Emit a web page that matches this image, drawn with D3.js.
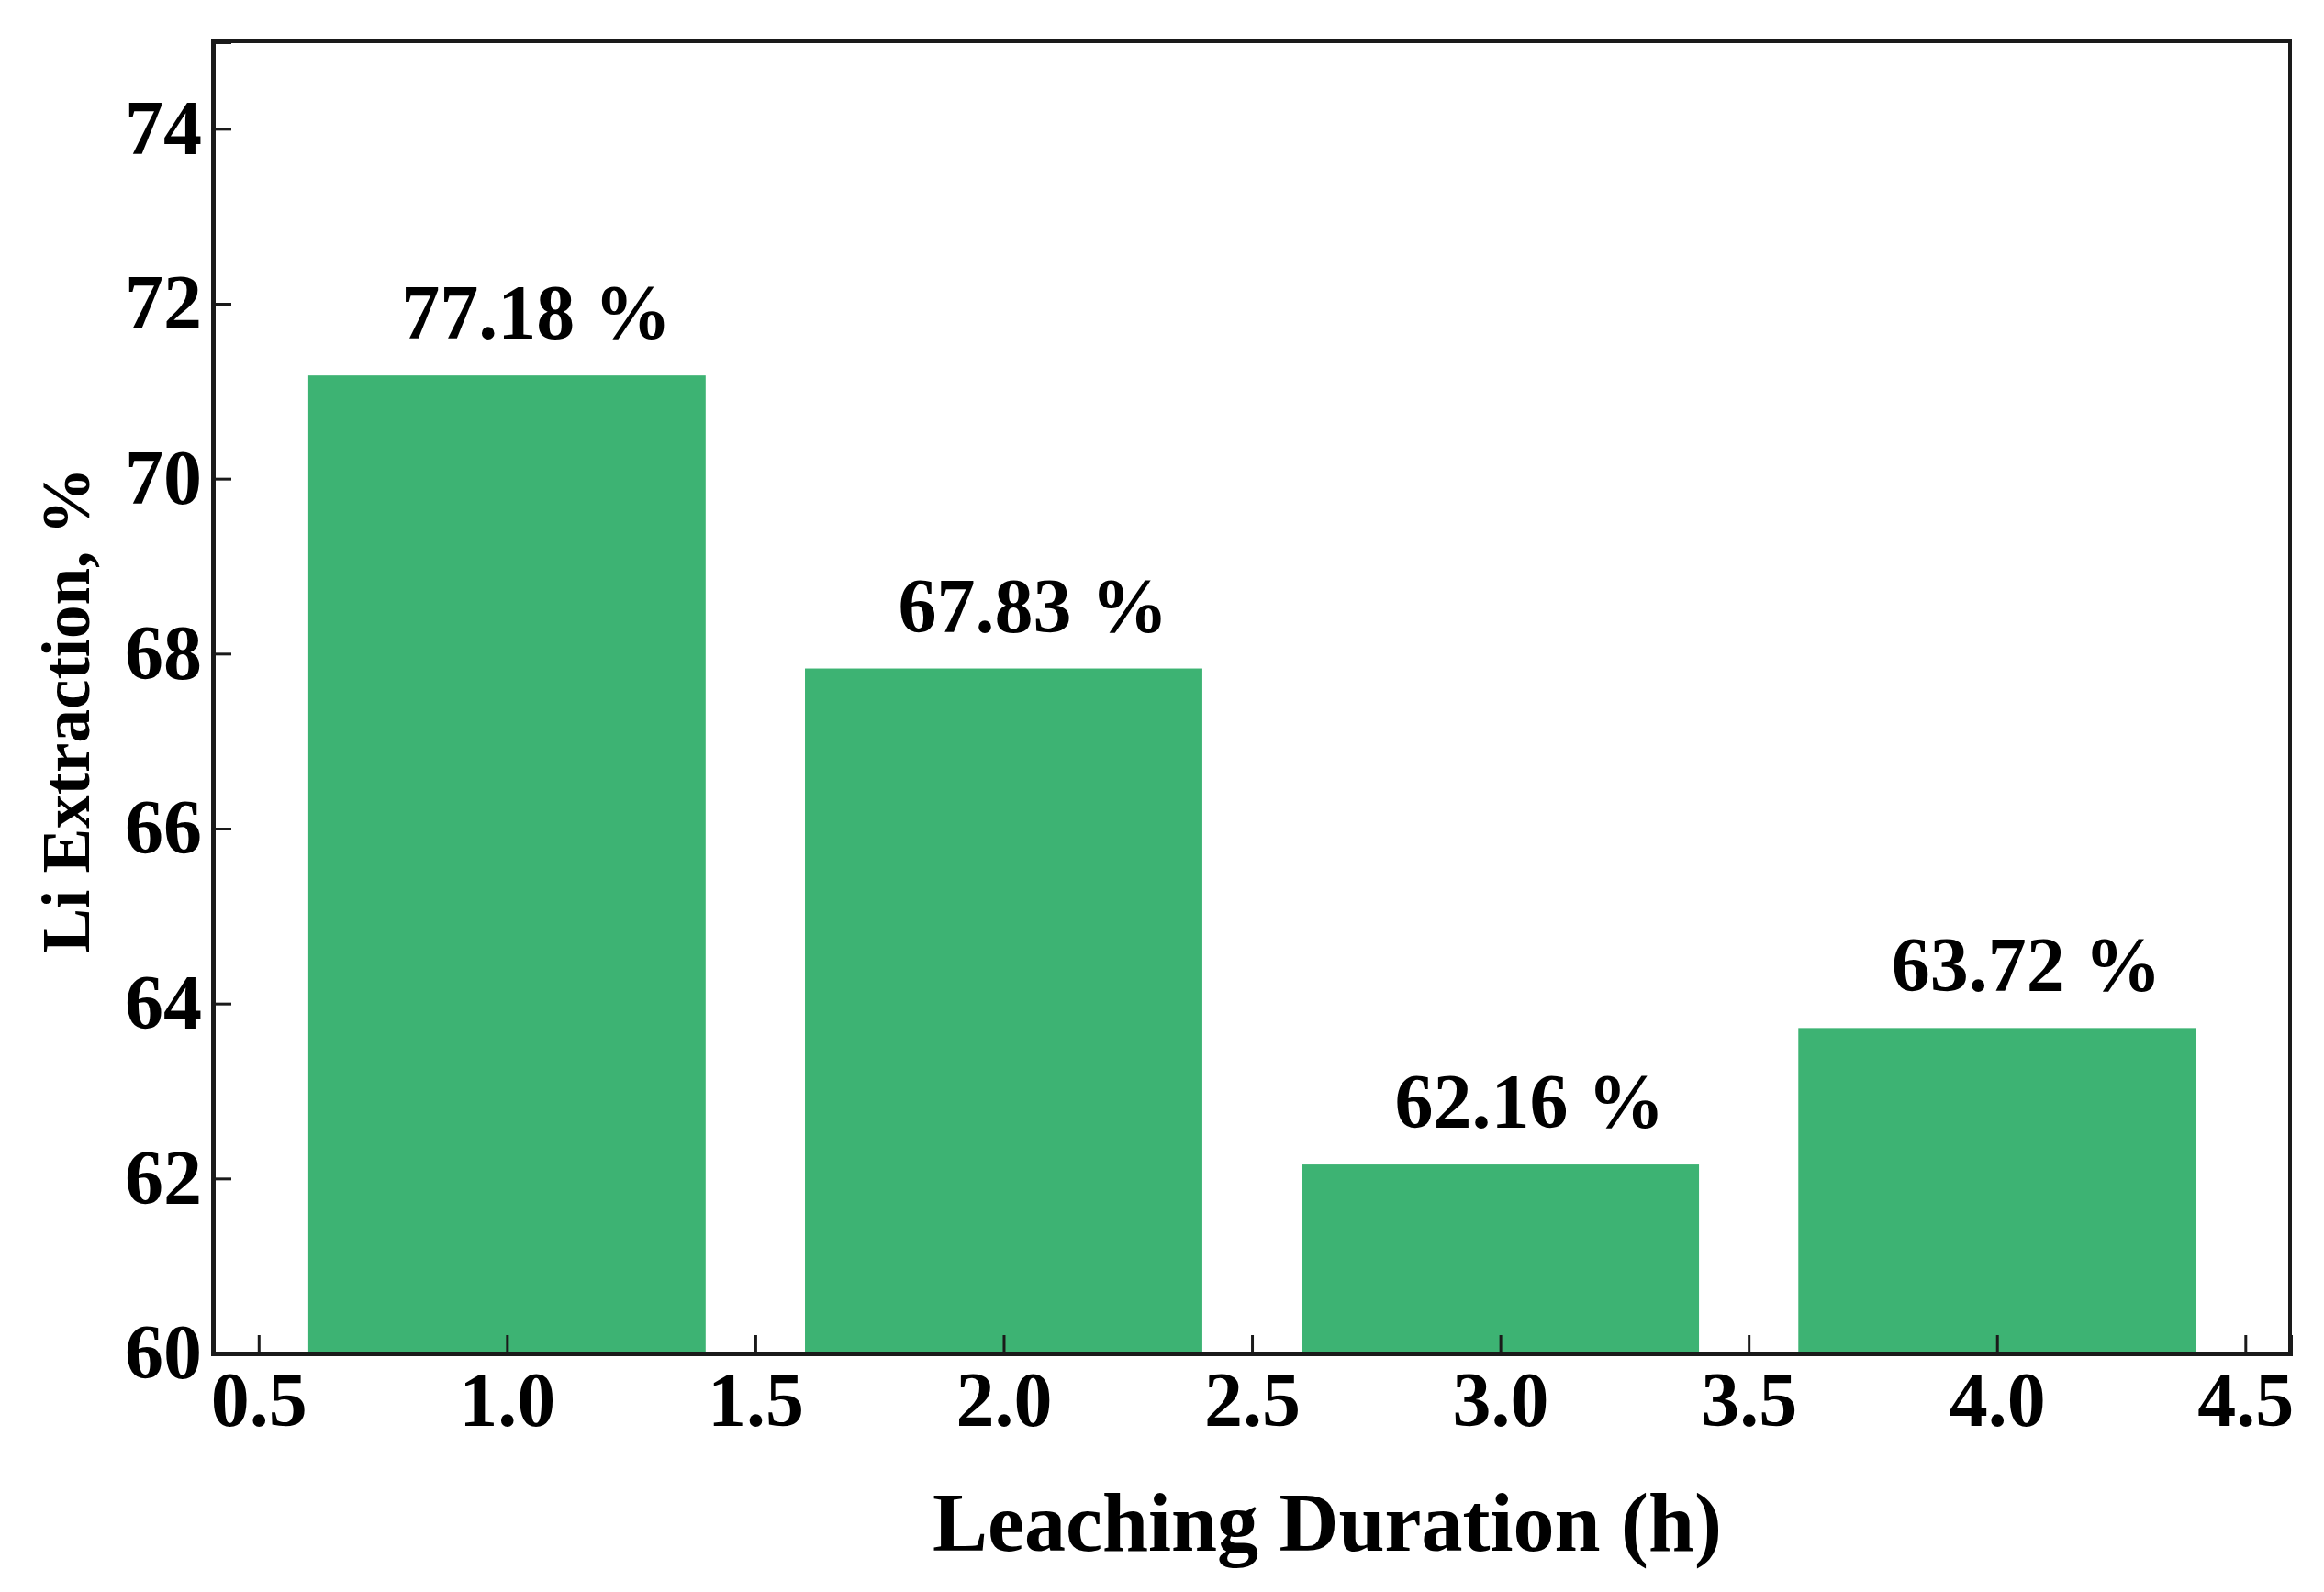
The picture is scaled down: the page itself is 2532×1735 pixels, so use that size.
<!DOCTYPE html>
<html>
<head>
<meta charset="utf-8">
<script src="https://cdn.jsdelivr.net/npm/d3@7"></script>
<style>
  body { margin: 0; background: #fff; }
  svg { display: block; }
</style>
</head>
<body>
<div id="wrapper"></div>
<script>
// chart data
const durations = [1.0, 2.0, 3.0, 4.0];
const extraction = [71.18, 67.83, 62.16, 63.72];
const barLabels = ['77.18 %', '67.83 %', '62.16 %', '63.72 %'];
const xTicks = [0.5, 1.0, 1.5, 2.0, 2.5, 3.0, 3.5, 4.0, 4.5];
const yTicks = [60, 62, 64, 66, 68, 70, 72, 74];

function drawBarChart() {
  const font = '"Liberation Serif", "DejaVu Serif", serif';
  const barWidth = 0.8;

  let dimensions = {
    width: 2532,
    height: 1735,
    margins: {
      top: 45,
      right: 37,
      bottom: 260,
      left: 232
    }
  };

  dimensions.boundedWidth = dimensions.width
    - dimensions.margins.left
    - dimensions.margins.right;

  dimensions.boundedHeight = dimensions.height
    - dimensions.margins.top
    - dimensions.margins.bottom;

  const wrapper = d3.select('#wrapper')
    .append('svg')
      .attr('width', dimensions.width)
      .attr('height', dimensions.height);

  const bounds = wrapper.append('g')
      .attr('transform', `translate(${dimensions.margins.left}, ${dimensions.margins.top})`);

  const xScale = d3.scaleLinear()
    .domain([0.408, 4.59])
    .range([0, dimensions.boundedWidth]);

  const yScale = d3.scaleLinear()
    .domain([60, 75])
    .range([dimensions.boundedHeight, 0]);

  // bars
  bounds.selectAll('.bar')
    .data(durations)
    .join('rect')
      .attr('class', 'bar')
      .attr('x', d => xScale(d - barWidth / 2))
      .attr('width', d => xScale(d + barWidth / 2) - xScale(d - barWidth / 2))
      .attr('y', (d, i) => yScale(extraction[i]))
      .attr('height', (d, i) => yScale(60) - yScale(extraction[i]))
      .attr('fill', '#3db373');

  // value labels
  bounds.selectAll('.bar-label')
    .data(durations)
    .join('text')
      .attr('class', 'bar-label')
      .attr('x', d => xScale(d) + 32)
      .attr('y', (d, i) => yScale(extraction[i]) - 40)
      .attr('text-anchor', 'middle')
      .style('font-family', font)
      .style('font-weight', 'bold')
      .style('font-size', '84px')
      .text((d, i) => barLabels[i]);

  // frame (top and right)
  bounds.append('rect')
      .attr('width', dimensions.boundedWidth)
      .attr('height', dimensions.boundedHeight)
      .attr('fill', 'none')
      .attr('stroke', '#1a1a1a')
      .attr('stroke-width', 4);

  const yAxisGenerator = d3.axisLeft()
      .scale(yScale)
      .tickValues(yTicks)
      .tickFormat(d3.format('d'))
      .tickSize(-20)
      .tickPadding(12);

  const yAxis = bounds.append('g')
      .attr('class', 'y-axis')
      .call(yAxisGenerator);

  const xAxisGenerator = d3.axisBottom()
      .scale(xScale)
      .tickValues(xTicks)
      .tickFormat(d3.format('.1f'))
      .tickSize(-20)
      .tickPadding(16);

  const xAxis = bounds.append('g')
      .attr('class', 'x-axis')
      .attr('transform', `translate(0, ${dimensions.boundedHeight})`)
      .call(xAxisGenerator);

  [xAxis, yAxis].forEach(axis => {
    axis.select('.domain')
        .attr('stroke', '#1a1a1a')
        .attr('stroke-width', 5);
    axis.selectAll('.tick line')
        .attr('stroke', '#1a1a1a')
        .attr('stroke-width', 3);
    axis.selectAll('.tick text')
        .attr('fill', '#000')
        .style('font-family', font)
        .style('font-weight', 'bold')
        .style('font-size', '84px');
  });
  xAxis.selectAll('.tick text').attr('dy', '0.75em');

  // axis titles
  wrapper.append('text')
      .attr('x', 1446)
      .attr('y', 1690)
      .attr('text-anchor', 'middle')
      .style('font-family', font)
      .style('font-weight', 'bold')
      .style('font-size', '90px')
      .text('Leaching Duration (h)');

  wrapper.append('text')
      .attr('transform', 'translate(97, 774) rotate(-90)')
      .attr('text-anchor', 'middle')
      .style('font-family', font)
      .style('font-weight', 'bold')
      .style('font-size', '73px')
      .text('Li Extraction, %');
}

drawBarChart();
</script>
</body>
</html>
